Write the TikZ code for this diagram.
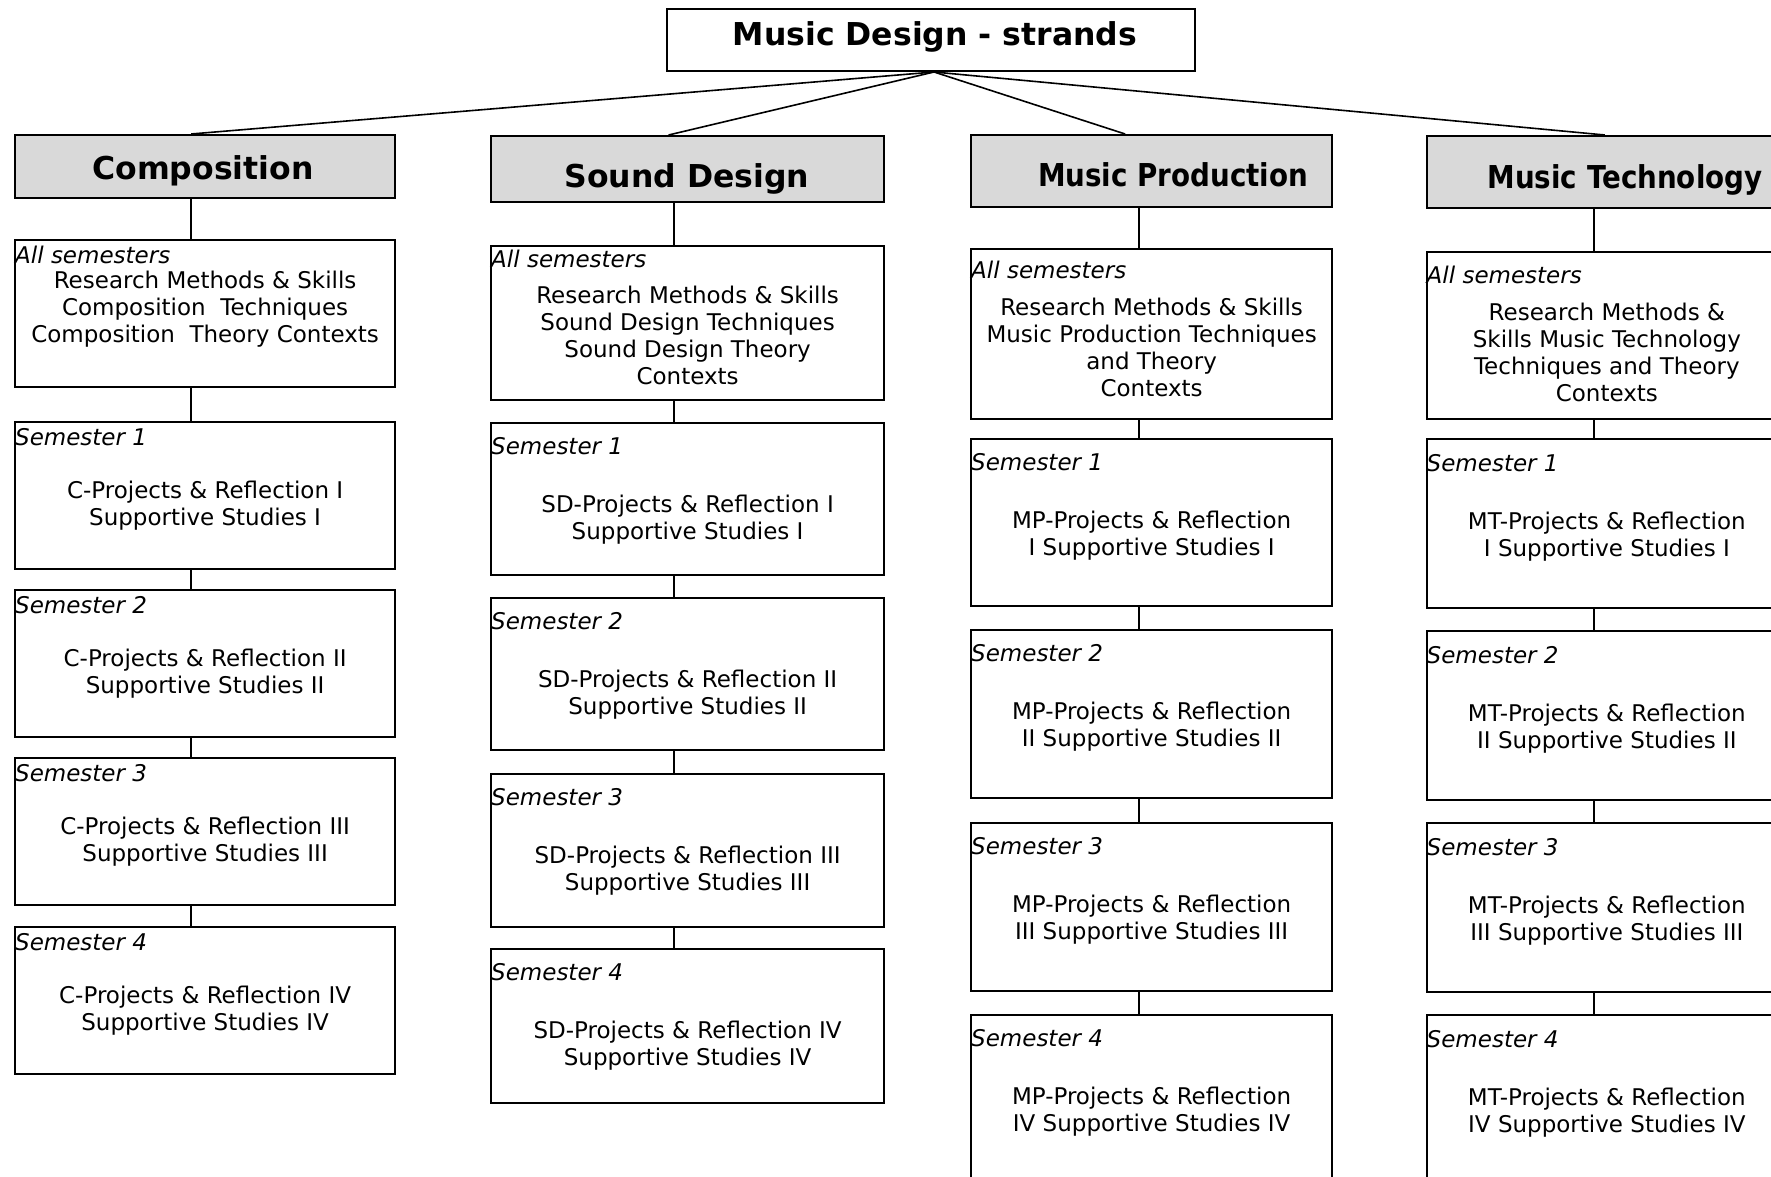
\documentclass[tikz,border=0pt]{standalone}
\usepackage{fontspec}
\setmainfont{DejaVu Sans}

\tikzset{
  top/.style={draw, line width=2pt, inner sep=0pt, minimum width=528pt, minimum height=62pt},
  strand/.style={draw, line width=2.2pt, fill=black!15, inner sep=0pt, anchor=north west},
  unit/.style={draw, line width=2.2pt, inner sep=0pt, anchor=north west},
  head/.style={inner sep=0pt, font=\fontsize{31.5}{38}\selectfont\bfseries},
  tag/.style={anchor=west, inner sep=0pt, xshift=1pt, font=\fontsize{23}{27}\selectfont\itshape},
  body/.style={align=center, inner sep=0pt, font=\fontsize{23}{27}\selectfont},
  link/.style={line width=1.6pt},
}

\begin{document}
\begin{tikzpicture}[x=1pt,y=-1pt]
\useasboundingbox (0,0) rectangle (1771,1177);
\clip (0,0) rectangle (1771,1177);

% title
\node[top] (md) at (931,40) {};
\node[head] (mdt) at (935,36.5) {Music Design - strands};

% Composition
\node[strand, minimum width=380pt, minimum height=63pt] (ch) at (14,134) {};
\node[head] (cht) at (203,170.5) {Composition};
\node[unit, minimum width=380pt, minimum height=147pt] (ca) at (14,239) {};
\node[tag] (cat) at ([yshift=-16pt]ca.north west) {All semesters};
\node[body] (cab) at ([yshift=-70pt]ca.north) {Research Methods \& Skills\\Composition~ Techniques\\Composition~ Theory Contexts};
\node[unit, minimum width=380pt, minimum height=147pt] (c1) at (14,421) {};
\node[tag] (c1t) at ([yshift=-16pt]c1.north west) {Semester 1};
\node[body] (c1b) at ([yshift=-84.5pt]c1.north) {C-Projects \& Reflection I\\Supportive Studies I};
\node[unit, minimum width=380pt, minimum height=147pt] (c2) at (14,589) {};
\node[tag] (c2t) at ([yshift=-16pt]c2.north west) {Semester 2};
\node[body] (c2b) at ([yshift=-84.5pt]c2.north) {C-Projects \& Reflection II\\Supportive Studies II};
\node[unit, minimum width=380pt, minimum height=147pt] (c3) at (14,757) {};
\node[tag] (c3t) at ([yshift=-16pt]c3.north west) {Semester 3};
\node[body] (c3b) at ([yshift=-84.5pt]c3.north) {C-Projects \& Reflection III\\Supportive Studies III};
\node[unit, minimum width=380pt, minimum height=147pt] (c4) at (14,926) {};
\node[tag] (c4t) at ([yshift=-16pt]c4.north west) {Semester 4};
\node[body] (c4b) at ([yshift=-84.5pt]c4.north) {C-Projects \& Reflection IV\\Supportive Studies IV};

% Sound Design
\node[strand, minimum width=393pt, minimum height=66pt] (sh) at (490,135) {};
\node[head] (sht) at (687,178.5) {Sound Design};
\node[unit, minimum width=393pt, minimum height=154pt] (sa) at (490,245) {};
\node[tag] (sat) at ([yshift=-14pt]sa.north west) {All semesters};
\node[body] (sab) at ([yshift=-90.5pt]sa.north) {Research Methods \& Skills\\Sound Design Techniques\\Sound Design Theory\\Contexts};
\node[unit, minimum width=393pt, minimum height=152pt] (s1) at (490,422) {};
\node[tag] (s1t) at ([yshift=-24pt]s1.north west) {Semester 1};
\node[body] (s1b) at ([yshift=-97.5pt]s1.north) {SD-Projects \& Reflection I\\Supportive Studies I};
\node[unit, minimum width=393pt, minimum height=152pt] (s2) at (490,597) {};
\node[tag] (s2t) at ([yshift=-24pt]s2.north west) {Semester 2};
\node[body] (s2b) at ([yshift=-97.5pt]s2.north) {SD-Projects \& Reflection II\\Supportive Studies II};
\node[unit, minimum width=393pt, minimum height=153pt] (s3) at (490,773) {};
\node[tag] (s3t) at ([yshift=-24pt]s3.north west) {Semester 3};
\node[body] (s3b) at ([yshift=-97.5pt]s3.north) {SD-Projects \& Reflection III\\Supportive Studies III};
\node[unit, minimum width=393pt, minimum height=154pt] (s4) at (490,948) {};
\node[tag] (s4t) at ([yshift=-24pt]s4.north west) {Semester 4};
\node[body] (s4b) at ([yshift=-97.5pt]s4.north) {SD-Projects \& Reflection IV\\Supportive Studies IV};

% Music Production
\node[strand, minimum width=361pt, minimum height=72pt] (mh) at (970,134) {};
\node[head] (mht) at (1173,175) {\scalebox{0.88}[1]{Music Production}};
\node[unit, minimum width=361pt, minimum height=170pt] (ma) at (970,248) {};
\node[tag] (mat) at ([yshift=-22pt]ma.north west) {All semesters};
\node[body] (mab) at ([yshift=-99pt]ma.north) {Research Methods \& Skills\\Music Production Techniques\\and Theory\\Contexts};
\node[unit, minimum width=361pt, minimum height=167pt] (m1) at (970,438) {};
\node[tag] (m1t) at ([yshift=-24pt]m1.north west) {Semester 1};
\node[body] (m1b) at ([yshift=-97.5pt]m1.north) {MP-Projects \& Reflection\\I Supportive Studies I};
\node[unit, minimum width=361pt, minimum height=168pt] (m2) at (970,629) {};
\node[tag] (m2t) at ([yshift=-24pt]m2.north west) {Semester 2};
\node[body] (m2b) at ([yshift=-97.5pt]m2.north) {MP-Projects \& Reflection\\II Supportive Studies II};
\node[unit, minimum width=361pt, minimum height=168pt] (m3) at (970,822) {};
\node[tag] (m3t) at ([yshift=-24pt]m3.north west) {Semester 3};
\node[body] (m3b) at ([yshift=-97.5pt]m3.north) {MP-Projects \& Reflection\\III Supportive Studies III};
\node[unit, minimum width=361pt, minimum height=168pt] (m4) at (970,1014) {};
\node[tag] (m4t) at ([yshift=-24pt]m4.north west) {Semester 4};
\node[body] (m4b) at ([yshift=-97.5pt]m4.north) {MP-Projects \& Reflection\\IV Supportive Studies IV};

% Music Technology (runs past the right edge)
\node[strand, minimum width=360.5pt, minimum height=72pt] (th) at (1425.5,135) {};
\node[head] (tht) at (1625,179.5) {\scalebox{0.88}[1]{Music Technology}};
\node[unit, minimum width=360.5pt, minimum height=167pt] (ta) at (1425.5,251) {};
\node[tag] (tat) at ([yshift=-23.5pt]ta.north west) {All semesters};
\node[body] (tab) at ([yshift=-101.5pt]ta.north) {Research Methods \&\\Skills Music Technology\\Techniques and Theory\\Contexts};
\node[unit, minimum width=360.5pt, minimum height=169pt] (t1) at (1425.5,438) {};
\node[tag] (t1t) at ([yshift=-25pt]t1.north west) {Semester 1};
\node[body] (t1b) at ([yshift=-98.5pt]t1.north) {MT-Projects \& Reflection\\I Supportive Studies I};
\node[unit, minimum width=360.5pt, minimum height=169pt] (t2) at (1425.5,630) {};
\node[tag] (t2t) at ([yshift=-25pt]t2.north west) {Semester 2};
\node[body] (t2b) at ([yshift=-98.5pt]t2.north) {MT-Projects \& Reflection\\II Supportive Studies II};
\node[unit, minimum width=360.5pt, minimum height=169pt] (t3) at (1425.5,822) {};
\node[tag] (t3t) at ([yshift=-25pt]t3.north west) {Semester 3};
\node[body] (t3b) at ([yshift=-98.5pt]t3.north) {MT-Projects \& Reflection\\III Supportive Studies III};
\node[unit, minimum width=360.5pt, minimum height=169pt] (t4) at (1425.5,1014) {};
\node[tag] (t4t) at ([yshift=-25pt]t4.north west) {Semester 4};
\node[body] (t4b) at ([yshift=-98.5pt]t4.north) {MT-Projects \& Reflection\\IV Supportive Studies IV};

% connectors
\draw[link] ([xshift=3pt]md.south) -- ([xshift=-14pt]ch.north);
\draw[link] ([xshift=3pt]md.south) -- ([xshift=-19pt]sh.north);
\draw[link] ([xshift=3pt]md.south) -- ([xshift=-26.5pt]mh.north);
\draw[link] ([xshift=3pt]md.south) -- ([xshift=-2pt]th.north);

\coordinate (cv) at (191,0);
\coordinate (sv) at (674,0);
\coordinate (mv) at (1139,0);
\coordinate (tv) at (1594,0);
\draw[link] (ch.south -| cv) -- (ca.north -| cv) (ca.south -| cv) -- (c1.north -| cv)
  (c1.south -| cv) -- (c2.north -| cv) (c2.south -| cv) -- (c3.north -| cv) (c3.south -| cv) -- (c4.north -| cv);
\draw[link] (sh.south -| sv) -- (sa.north -| sv) (sa.south -| sv) -- (s1.north -| sv)
  (s1.south -| sv) -- (s2.north -| sv) (s2.south -| sv) -- (s3.north -| sv) (s3.south -| sv) -- (s4.north -| sv);
\draw[link] (mh.south -| mv) -- (ma.north -| mv) (ma.south -| mv) -- (m1.north -| mv)
  (m1.south -| mv) -- (m2.north -| mv) (m2.south -| mv) -- (m3.north -| mv) (m3.south -| mv) -- (m4.north -| mv);
\draw[link] (th.south -| tv) -- (ta.north -| tv) (ta.south -| tv) -- (t1.north -| tv)
  (t1.south -| tv) -- (t2.north -| tv) (t2.south -| tv) -- (t3.north -| tv) (t3.south -| tv) -- (t4.north -| tv);
\end{tikzpicture}
\end{document}
